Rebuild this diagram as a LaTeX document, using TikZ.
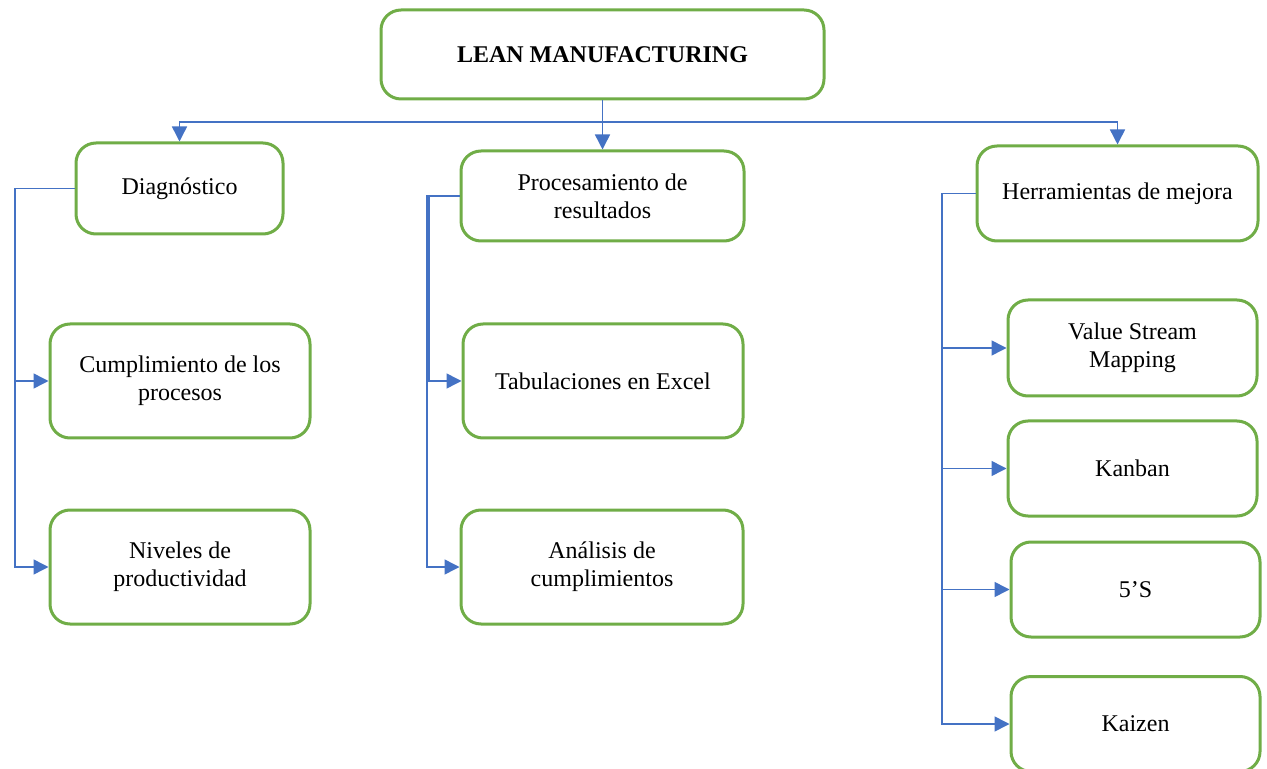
\documentclass[tikz,border=0pt]{standalone}
\usepackage{fontspec}
\setmainfont{Liberation Serif}
\usetikzlibrary{arrows.meta}
\definecolor{boxgreen}{RGB}{112,173,71}
\definecolor{linkblue}{RGB}{68,114,196}
\begin{document}
\begin{tikzpicture}[x=0.5pt,y=-0.5pt,
  box/.style={draw=boxgreen, line width=1.5pt, rounded corners=10pt, fill=white,
    align=center, inner sep=2pt, font=\fontsize{12}{14}\selectfont},
  link/.style={draw=linkblue, line width=0.75pt},
  arr/.style={link, -{Triangle[length=7.5pt,width=7.5pt]}}]
\useasboundingbox (0,0) rectangle (1267,769);

% boxes
\node[box, minimum width=221.5pt, minimum height=44.5pt, font=\bfseries\fontsize{12}{14}\selectfont]
  (lean) at (602.5,54.5) {LEAN MANUFACTURING};
\node[box, minimum width=103.5pt, minimum height=45.5pt] (diag) at (179.5,188.5) {Diagnóstico};
\node[box, minimum width=141.5pt, minimum height=45pt] (proc) at (602.5,196) {Procesamiento de\\resultados};
\node[box, minimum width=140.5pt, minimum height=47.5pt] (herr) at (1117.5,193.5) {Herramientas de mejora};

\node[box, minimum width=130pt, minimum height=57pt] (cump) at (180,381) {Cumplimiento de los\\procesos};
\node[box, minimum width=130pt, minimum height=57pt] (niv) at (180,567) {Niveles de\\productividad};

\node[box, minimum width=140pt, minimum height=57pt] (tab) at (603,381) {Tabulaciones en Excel};
\node[box, minimum width=141pt, minimum height=57pt] (anal) at (602,567) {Análisis de\\cumplimientos};

\node[box, minimum width=124.5pt, minimum height=48pt] (vsm) at (1132.5,348) {Value Stream\\Mapping};
\node[box, minimum width=124.5pt, minimum height=47.5pt] (kan) at (1132.5,468.5) {Kanban};
\node[box, minimum width=124.5pt, minimum height=47.5pt] (five) at (1135.5,589.5) {5’S};
\node[box, minimum width=124.5pt, minimum height=47.5pt] (kai) at (1135.5,724) {Kaizen};

% spines
\coordinate (bus) at (0,122);
\coordinate (lsp) at (15,0);
\coordinate (msp) at (427,0);
\coordinate (msq) at (429,0);
\coordinate (rsp) at (942,0);

% top level
\draw[arr] (lean.south) -- (lean.south |- bus) -| (diag.north);
\draw[arr] (lean.south) -- (lean.south |- bus) -| (herr.north);
\draw[arr] (lean.south) -- (lean.south |- proc.north);

% left branch
\draw[arr] (diag.west) -| (lsp |- cump.west) -- (cump.west);
\draw[arr] (diag.west) -| (lsp |- niv.west) -- (niv.west);

% middle branch
\draw[arr] (proc.west) -| (msq |- tab.west) -- (tab.west);
\draw[arr] (proc.west) -| (msp |- anal.west) -- (anal.west);

% right branch
\draw[arr] (herr.west) -| (rsp |- vsm.west) -- (vsm.west);
\draw[arr] (herr.west) -| (rsp |- kan.west) -- (kan.west);
\draw[arr] (herr.west) -| (rsp |- five.west) -- (five.west);
\draw[arr] (herr.west) -| (rsp |- kai.west) -- (kai.west);
\end{tikzpicture}
\end{document}
